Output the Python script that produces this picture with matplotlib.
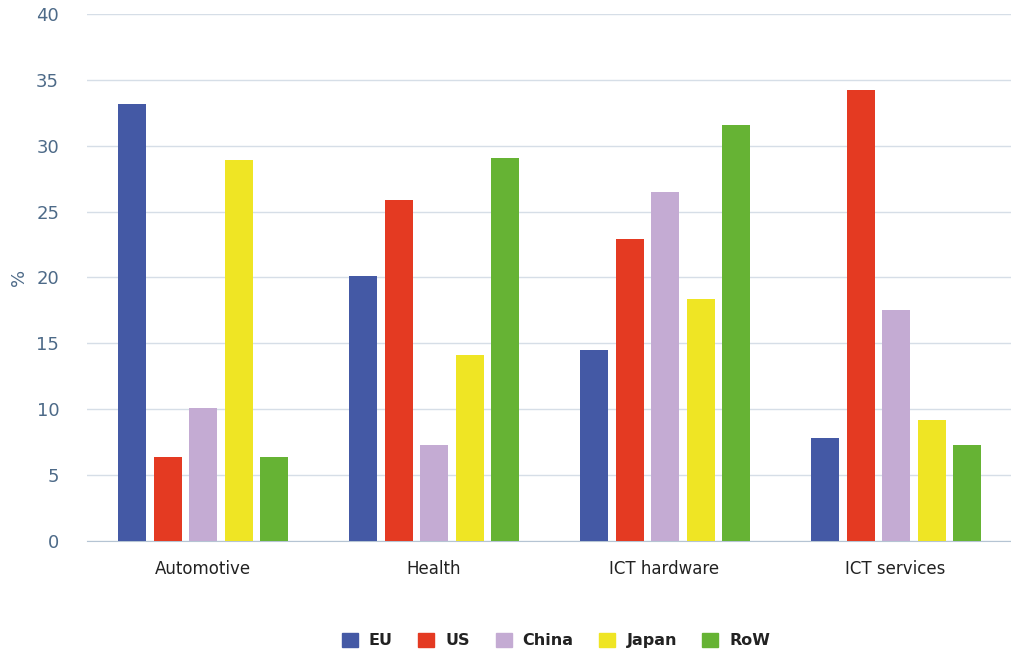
import numpy as np
import matplotlib.pyplot as plt
from matplotlib.patches import Patch

categories = ['Automotive', 'Health', 'ICT hardware', 'ICT services']
regions = ['EU', 'US', 'China', 'Japan', 'RoW']
colors = ['#4459a5', '#e43a22', '#c4abd3', '#efe524', '#66b334']

eu = [33.2, 20.1, 14.5, 7.8]
us = [6.4, 25.9, 22.9, 34.2]
china = [10.1, 7.3, 26.5, 17.5]
japan = [28.9, 14.1, 18.4, 9.2]
row = [6.4, 29.1, 31.6, 7.3]
series = [eu, us, china, japan, row]

tick_color = '#4d6a88'

fig = plt.figure(figsize=(10.11, 6.51), dpi=100)
ax = fig.add_axes([0.086, 0.169, 0.914, 0.8095])

x = np.arange(len(categories))
step = 0.154
width = 0.121
for i, (vals, c) in enumerate(zip(series, colors)):
    ax.bar(x + (i - 2) * step + 0.003, vals, width, color=c, zorder=3)

ax.set_xlim(-0.5, 3.5)
ax.set_ylim(0, 40)
ax.set_yticks(range(0, 41, 5))
ax.set_xticks(x)
ax.set_xticklabels(categories, fontsize=12, color='#222222')
ax.tick_params(axis='y', length=0, labelsize=13, labelcolor=tick_color, pad=20)
ax.tick_params(axis='x', length=0, pad=14)
ax.grid(axis='y', color='#d6dee7', linewidth=1, zorder=0)
for s in ['top', 'right', 'left']:
    ax.spines[s].set_visible(False)
ax.spines['bottom'].set_color('#b5c4d3')
ax.set_ylabel('%', color=tick_color, fontsize=13, labelpad=6)

handles = [Patch(color=c, label=r) for c, r in zip(colors, regions)]
leg = fig.legend(handles=handles, loc='center', bbox_to_anchor=(0.55, 0.016),
                 ncol=5, frameon=False, fontsize=11.5, handlelength=1.0,
                 handleheight=1.0, columnspacing=1.6, handletextpad=0.7)
for t in leg.get_texts():
    t.set_fontweight('bold')
    t.set_color('#222222')

fig.savefig('out.png', dpi=100)
